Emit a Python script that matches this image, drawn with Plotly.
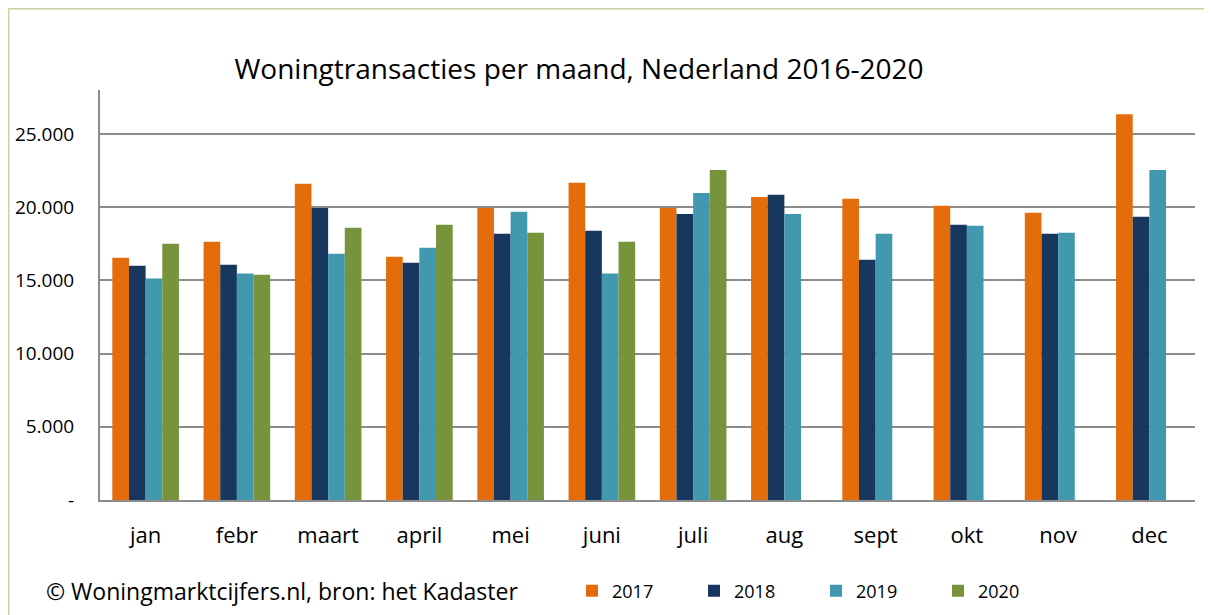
import plotly.graph_objects as go

months = ["jan", "febr", "maart", "april", "mei", "juni", "juli", "aug", "sept", "okt", "nov", "dec"]
y2017 = [16550, 17640, 21590, 16620, 19950, 21660, 19950, 20700, 20570, 20090, 19610, 26350]
y2018 = [16000, 16070, 19950, 16210, 18180, 18390, 19540, 20840, 16410, 18800, 18180, 19340]
y2019 = [15120, 15460, 16820, 17230, 19680, 15460, 20970, 19540, 18180, 18730, 18250, 22540]
y2020 = [17500, 15390, 18590, 18800, 18250, 17640, 22540, None, None, None, None, None]
tick_vals = [0, 5000, 10000, 15000, 20000, 25000]
tick_text = ["-", "5.000", "10.000", "15.000", "20.000", "25.000"]

series = [("2017", y2017, "#e46c0a"), ("2018", y2018, "#17375e"),
          ("2019", y2019, "#4198af"), ("2020", y2020, "#77933c")]

FONT = "Open Sans"
fig = go.Figure()
for name, vals, col in series:
    fig.add_trace(go.Bar(x=months, y=vals, name=name, marker=dict(color=col, line=dict(width=0))))

# page body has an 8px margin: figure coords = screen coords - 8
OFF = 8
W, H = 1212 - OFF, 615 - OFF
L, T = 100 - OFF, 90 - OFF
R = W - (1195 - OFF)
B = H - (500 - OFF)
pw = W - L - R
ph = H - T - B


def px_x(sx):
    return (sx - OFF - L) / pw


def px_y(sy):
    return (T + ph - (sy - OFF)) / ph


fig.update_layout(
    width=W, height=H,
    margin=dict(l=L, r=R, t=T, b=B, autoexpand=False),
    paper_bgcolor="white", plot_bgcolor="white",
    barmode="group", bargap=0.27, bargroupgap=0,
    font=dict(family=FONT, color="#000000"),
    title=dict(text="Woningtransacties per maand, Nederland 2016-2020",
               x=(579 - OFF) / W, xref="container", xanchor="center",
               y=1 - (69 - OFF) / H, yref="container", yanchor="middle",
               font=dict(size=28, family=FONT, color="#000000")),
    xaxis=dict(showgrid=False, showline=True, linecolor="#8c8c8c", linewidth=2,
               ticks="", tickfont=dict(size=22), ticklabelstandoff=15, automargin=False),
    yaxis=dict(range=[0, 28000], tickvals=tick_vals, ticktext=tick_text,
               showgrid=True, gridcolor="#8c8c8c", gridwidth=2,
               showline=True, linecolor="#8c8c8c", linewidth=2,
               zeroline=False, ticks="", tickfont=dict(size=19),
               ticklabelstandoff=20, automargin=False),
    legend=dict(orientation="h", x=px_x(572), xanchor="left",
                y=px_y(591), yanchor="middle",
                font=dict(size=18, family=FONT),
                itemwidth=30, entrywidth=77,
                bgcolor="rgba(0,0,0,0)"),
    showlegend=True,
)

fig.add_annotation(text="© Woningmarktcijfers.nl, bron: het Kadaster",
                   xref="paper", yref="paper",
                   x=px_x(44), xanchor="left",
                   y=px_y(591), yanchor="middle",
                   showarrow=False, font=dict(size=23, family=FONT))

# green frame lines (left and top)
fig.add_shape(type="line", xref="paper", yref="paper",
              x0=px_x(OFF + 0.5), x1=px_x(OFF + 0.5), y0=px_y(615), y1=px_y(OFF + 0.5),
              line=dict(color="#c3d69b", width=2))
fig.add_shape(type="line", xref="paper", yref="paper",
              x0=px_x(OFF + 0.5), x1=px_x(1212), y0=px_y(OFF + 0.5), y1=px_y(OFF + 0.5),
              line=dict(color="#c3d69b", width=2))

fig.write_html("out.html")
